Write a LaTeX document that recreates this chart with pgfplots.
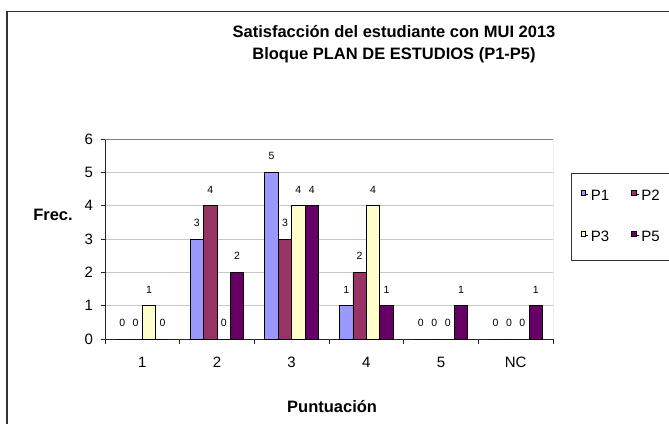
\documentclass[border=0pt]{standalone}
\usepackage{fontspec}
\setmainfont{Liberation Sans}
\usepackage{pgfplots}
\pgfplotsset{compat=1.18}

\definecolor{pOne}{HTML}{9999FF}
\definecolor{pTwo}{HTML}{993366}
\definecolor{pThree}{HTML}{FFFFCC}
\definecolor{pFive}{HTML}{660066}

\newcommand{\fs}[1]{\fontsize{#1}{#1}\selectfont}

\begin{document}
\begin{tikzpicture}[x=1pt,y=1pt]
\useasboundingbox (0,0) rectangle (669,423);
% outer chart frame, cut off right and bottom
\draw[black!80, line width=1.7pt] (7,-5) -- (7,411.5) -- (680,411.5);
\node[font=\bfseries\fs{16.5}, anchor=base] at (394,385) {Satisfacción del estudiante con MUI 2013};
\node[font=\bfseries\fs{16.5}, anchor=base] at (394,363.5) {Bloque PLAN DE ESTUDIOS (P1-P5)};

\begin{axis}[
    at={(105pt,84pt)}, anchor=south west,
    scale only axis, width=448pt, height=200pt,
    ybar=0pt, bar width=13.4pt,
    xmin=-0.5, xmax=5.5, ymin=0, ymax=6,
    axis lines=left,
    axis line style={-, black!85, line width=1pt},
    xtick={-0.5,0.5,1.5,2.5,3.5,4.5,5.5},
    xticklabels={1,2,3,4,5,NC},
    x tick label as interval,
    ytick={0,1,2,3,4,5,6},
    tick align=outside, major tick length=4.5pt,
    tick style={black!85, line width=0.8pt},
    ymajorgrids, grid style={black!22, line width=0.8pt},
    tick label style={font=\fs{15}},
    xticklabel style={yshift=-10pt},
    yticklabel style={xshift=-4pt},
    /pgf/number format/assume math mode=true,
    xlabel={Puntuación}, ylabel={Frec.},
    label style={font=\bfseries\fs{16.5}},
    xlabel style={at={(axis description cs:0.507,-0.34)}, anchor=center},
    ylabel style={rotate=-90, at={(axis description cs:-0.116,0.62)}, anchor=center},
    nodes near coords,
    every node near coord/.append style={font=\fs{10.5}, inner sep=0pt, yshift=12pt, anchor=south},
    legend columns=2,
    legend style={at={(rel axis cs:1.0402,0.83)}, anchor=north west,
        draw=black!80, line width=0.9pt, font=\fs{15},
        inner xsep=9pt, inner ysep=15pt, row sep=25pt,
        /tikz/every even column/.append style={column sep=20pt}},
    legend image code/.code={%
        \path (0pt,2pt) -- (7.5pt,2pt);
        \draw[#1, line width=0.6pt] (0pt,1.2pt) rectangle (4.6pt,5.8pt);},
]
\addplot[fill=pOne, draw=black, line width=0.8pt] coordinates {(0,0) (1,3) (2,5) (3,1) (4,0) (5,0)};
\addplot[fill=pTwo, draw=black, line width=0.8pt] coordinates {(0,0) (1,4) (2,3) (3,2) (4,0) (5,0)};
\addplot[fill=pThree, draw=black, line width=0.8pt] coordinates {(0,1) (1,0) (2,4) (3,4) (4,0) (5,0)};
\addplot[fill=pFive, draw=black, line width=0.8pt] coordinates {(0,0) (1,2) (2,4) (3,1) (4,1) (5,1)};
\legend{P1,P2,P3,P5}
\draw[black!50, line width=1pt] (rel axis cs:0,1) -- (rel axis cs:1,1) -- (rel axis cs:1,0);
\end{axis}
\end{tikzpicture}
\end{document}
